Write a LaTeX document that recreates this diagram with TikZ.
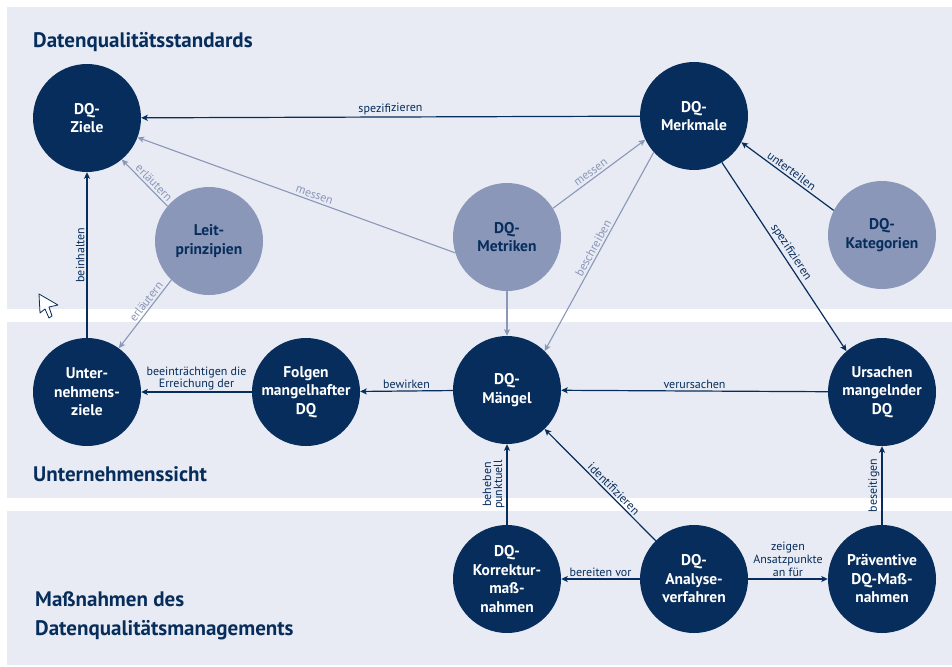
\documentclass[tikz,border=0pt]{standalone}
\usepackage{fontspec}
\setmainfont{PT Sans}
\usetikzlibrary{arrows.meta}
\definecolor{dqnavy}{HTML}{062D5C}
\definecolor{dqlight}{HTML}{8A97B8}
\definecolor{dqband}{HTML}{E8EBF3}
\begin{document}
\begin{tikzpicture}[x=1pt,y=-1pt,
  >={Stealth[length=6.5pt,width=6pt,inset=1.5pt]},
  dark/.style={circle,fill=dqnavy,text=white,minimum size=108pt,inner sep=0pt,align=center,font=\fontsize{15.5}{18.5}\selectfont\bfseries},
  light/.style={dark,fill=dqlight,text=dqnavy},
  darkline/.style={->,draw=dqnavy,line width=1.2pt},
  lightline/.style={->,draw=dqlight,line width=1.1pt},
  lbl/.style={midway,above,sloped,inner sep=2pt,text=dqnavy,align=center,font=\fontsize{12}{11}\selectfont},
  lightlbl/.style={lbl,text=dqlight},
  title/.style={anchor=base west,inner sep=0pt,text=dqnavy,align=left,font=\fontsize{21}{28.5}\selectfont\bfseries}]
\useasboundingbox (0,0) rectangle (952,666);
\foreach \a/\b in {7/309,322/498,511/665} {\fill[dqband] (7,\a) rectangle (952,\b);}

\node[title] (std) at (33,48) {Datenqualitätsstandards};
\node[title] (sicht) at (33,481) {Unternehmenssicht};
\node[title] (mass) at (35,635) {Maßnahmen des\\Datenqualitätsmanagements};

\node[dark] (ziele) at (87,118) {DQ-\\Ziele};
\node[dark] (merkmale) at (694,116) {DQ-\\Merkmale};
\node[light] (leit) at (209,241) {Leit-\\prinzipien};
\node[light] (metriken) at (507,237) {DQ-\\Metriken};
\node[light] (kategorien) at (882,235) {DQ-\\Kategorien};
\node[dark] (uziele) at (87,392) {Unter-\\nehmens-\\ziele};
\node[dark] (folgen) at (306,392) {Folgen\\mangelhafter\\DQ};
\node[dark] (maengel) at (507,390) {DQ-\\Mängel};
\node[dark] (ursachen) at (882,392) {Ursachen\\mangelnder\\DQ};
\node[dark] (korrektur) at (507,579) {DQ-\\Korrektur-\\maß-\\nahmen};
\node[dark] (analyse) at (694,579) {DQ-\\Analyse-\\verfahren};
\node[dark] (praevent) at (882,579) {Präventive\\DQ-Maß-\\nahmen};

\draw[darkline] (merkmale) -- (ziele) node[lbl] {spezifizieren};
\draw[lightline] (metriken.197) -- (ziele.-21) node[lightlbl,pos=0.45] {messen};
\draw[lightline] (leit.140) -- (ziele.-50) node[lightlbl,pos=0.4] {erläutern};
\draw[lightline] (leit.226) -- (uziele.54) node[lightlbl,pos=0.38] {erläutern};
\draw[darkline] (uziele) -- (ziele) node[lbl] {beinhalten};
\draw[lightline] (metriken.32) -- (merkmale.206) node[lightlbl,pos=0.45] {messen};
\draw[lightline] (metriken) -- (maengel);
\draw[lightline] (merkmale.222) -- (maengel.46) node[lightlbl] {beschreiben};
\draw[darkline] (kategorien.153) -- (merkmale.-29) node[lbl] {unterteilen};
\draw[darkline] (merkmale.-59) -- (ursachen.131) node[lbl] {spezifizieren};
\draw[darkline] (folgen) -- (uziele) node[lbl,font=\fontsize{12}{8}\selectfont,inner sep=1.5pt] {beeinträchtigen die\\Erreichung der};
\draw[darkline] (maengel) -- (folgen) node[lbl] {bewirken};
\draw[darkline] (ursachen) -- (maengel) node[lbl] {verursachen};
\draw[darkline] (korrektur) -- (maengel) node[lbl] {beheben\\punktuell};
\draw[darkline] (analyse.135) -- (maengel.-46) node[lbl,pos=0.42] {identifizieren};
\draw[darkline] (analyse) -- (korrektur) node[lbl] {bereiten vor};
\draw[darkline] (analyse) -- (praevent) node[lbl,font=\fontsize{12}{13}\selectfont] {zeigen\\Ansatzpunkte\\an für};
\draw[darkline] (praevent) -- (ursachen) node[lbl] {beseitigen};

\draw[fill=white,draw=dqnavy,line width=0.8pt,line join=round] (39,294) -- (40,313) -- (45,309) -- (49,318) -- (52,316) -- (49,307) -- (58,305) -- cycle;
\end{tikzpicture}
\end{document}
